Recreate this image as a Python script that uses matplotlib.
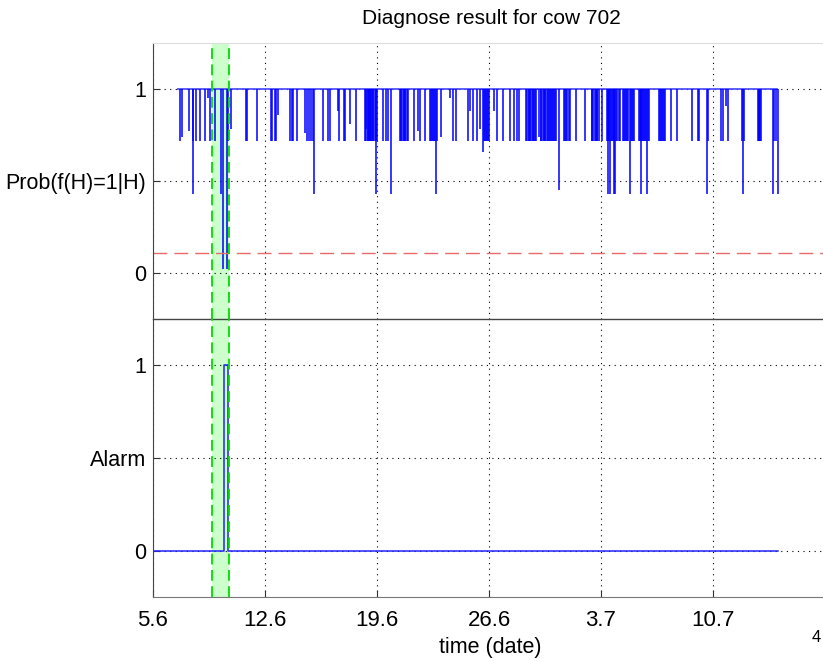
import matplotlib
matplotlib.use('Agg')
import matplotlib.pyplot as plt

plt.rcParams['font.family'] = ['Liberation Sans', 'DejaVu Sans']

# x in days since 5.6
tick_pos = [0, 7, 14, 21, 28, 35]
tick_labels = ['5.6', '12.6', '19.6', '26.6', '3.7', '10.7']

# probability trace: baseline of 1 between start/end, dips below
prob_start, prob_end = 1.5, 39.06
dip_t = [1.66, 1.83, 2.27, 2.48, 2.53, 2.69, 2.92, 3.27, 3.46, 3.58, 3.88, 4.25,
         4.39, 4.64, 4.71, 4.89, 5.81, 5.88, 6.52, 7.38, 7.44, 7.63, 7.69, 7.84,
         8.56, 8.66, 8.75, 8.97, 9.48, 9.61, 9.73, 9.88, 10.0, 10.09, 10.63, 10.94,
         11.06, 11.54, 11.64, 11.94, 12.03, 12.34, 12.71, 13.25, 13.34, 13.41, 13.5,
         13.59, 13.69, 13.78, 13.91, 14.0, 14.36, 14.56, 14.69, 14.86, 15.44, 15.53,
         15.66, 15.78, 15.91, 16.31, 16.56, 16.69, 17.0, 17.34, 17.44, 17.56, 17.67,
         17.78, 17.97, 18.59, 18.78, 18.91, 19.71, 19.84, 20.03, 20.25, 20.41, 20.64,
         20.75, 20.88, 21.0, 21.33, 21.47, 21.89, 22.33, 22.59, 22.72, 22.86, 23.34,
         23.47, 23.59, 23.72, 23.84, 23.94, 24.14, 24.28, 24.41, 24.53, 24.69, 24.81,
         24.94, 25.06, 25.19, 25.36, 25.69, 25.81, 25.97, 26.08, 26.44, 26.97, 27.41,
         27.53, 27.66, 27.78, 27.88, 28.06, 28.38, 28.44, 28.53, 28.58, 28.69, 28.79,
         28.89, 29.03, 29.16, 29.39, 29.52, 29.64, 29.81, 29.94, 30.06, 30.39, 30.48,
         30.56, 30.69, 30.81, 30.89, 31.0, 31.64, 31.77, 31.89, 32.0, 32.36, 32.77,
         33.67, 34.04, 34.13, 34.61, 34.69, 35.52, 35.64, 35.81, 35.96, 36.81, 36.89,
         36.94, 37.81, 37.89, 38.0, 38.77, 38.83, 38.94, 39.06,
         # extra dips inside the dense bursts
         13.30, 13.45, 13.55, 13.64, 13.74, 13.86, 13.96, 15.48, 15.60, 15.72, 15.85,
         17.39, 17.50, 17.61, 20.70, 20.81, 20.94, 23.40, 23.53, 23.65, 23.78, 23.90,
         24.22, 24.35, 24.47, 24.60, 24.75, 24.88, 25.00, 25.12, 25.75, 25.90,
         27.46, 27.60, 27.72, 28.41, 28.49, 28.63, 28.74, 28.84, 28.96, 29.10,
         29.45, 29.58, 29.70, 29.88, 30.00, 30.44, 30.52, 30.62, 30.75, 30.94,
         31.70, 31.83, 31.95, 37.85, 37.95]
dip_p = [0.72, 0.74, 0.77, 0.43, 0.72, 0.72, 0.72, 0.72, 0.95, 0.72, 0.72, 0.43,
         0.02, 0.02, 0.72, 0.78, 0.72, 0.72, 0.72, 0.72, 0.72, 0.72, 0.72, 0.86,
         0.72, 0.72, 0.72, 0.72, 0.76, 0.72, 0.72, 0.72, 0.72, 0.43, 0.72, 0.72,
         0.72, 0.88, 0.72, 0.72, 0.72, 0.81, 0.72, 0.72, 0.78, 0.72, 0.72,
         0.72, 0.72, 0.72, 0.43, 0.72, 0.72, 0.72, 0.72, 0.43, 0.72, 0.72,
         0.72, 0.72, 0.72, 0.72, 0.77, 0.72, 0.72, 0.72, 0.72, 0.72, 0.43,
         0.72, 0.74, 0.95, 0.72, 0.72, 0.72, 0.88, 0.72, 0.72, 0.78, 0.66,
         0.72, 0.72, 0.72, 0.88, 0.72, 0.72, 0.72, 0.72, 0.72, 0.72, 0.72,
         0.72, 0.72, 0.72, 0.72, 0.72, 0.74, 0.72, 0.72, 0.72, 0.72, 0.72,
         0.72, 0.72, 0.72, 0.45, 0.72, 0.72, 0.72, 0.72, 0.72, 0.72, 0.72,
         0.72, 0.72, 0.72, 0.72, 0.72, 0.72, 0.43, 0.72, 0.43, 0.72, 0.43,
         0.43, 0.72, 0.72, 0.72, 0.72, 0.72, 0.43, 0.72, 0.72, 0.72, 0.43,
         0.72, 0.72, 0.72, 0.43, 0.72, 0.72, 0.72, 0.72, 0.72, 0.72, 0.72,
         0.72, 0.72, 0.72, 0.43, 0.72, 0.72, 0.72, 0.91, 0.72, 0.72, 0.43,
         0.72, 0.72, 0.72, 0.72, 0.43, 0.72, 0.72, 0.43,
         0.72, 0.72, 0.72, 0.72, 0.72, 0.72, 0.72, 0.72, 0.72, 0.72, 0.72,
         0.72, 0.72, 0.72, 0.72, 0.72, 0.72, 0.72, 0.72, 0.72, 0.72, 0.72,
         0.72, 0.72, 0.72, 0.72, 0.72, 0.72, 0.72, 0.72, 0.72, 0.72,
         0.72, 0.72, 0.72, 0.72, 0.72, 0.72, 0.72, 0.72, 0.72, 0.72,
         0.72, 0.72, 0.72, 0.72, 0.72, 0.72, 0.72, 0.72, 0.72, 0.72,
         0.72, 0.72, 0.72, 0.72, 0.72]
threshold = 0.11

# alarm trace
alarm_t = [0, 4.45, 4.45, 4.67, 4.67, 39.06]
alarm_v = [0, 0, 1, 1, 0, 0]

# true event window
event_start, event_end = 3.69, 4.75

W, H = 823, 661
fig = plt.figure(figsize=(W / 100, H / 100), dpi=100)
left, right = 153, 831
ax1 = fig.add_axes([left / W, (H - 319) / H, (right - left) / W, (319 - 43) / H])
ax2 = fig.add_axes([left / W, (H - 597) / H, (right - left) / W, (597 - 319) / H], sharex=ax1)

grid_kw = dict(color='black', linestyle=(0, (1, 4)), linewidth=0.8)

for ax in (ax1, ax2):
    ax.axvspan(event_start, event_end, color='#ccffcc', zorder=0, lw=0)
    for x in (event_start, event_end):
        ax.axvline(x, color='#00dd00', linestyle=(0, (6, 3)), linewidth=1.3, zorder=3)
    ax.set_xlim(0, (right - left) / 16)
    ax.set_ylim(-0.25, 1.25)
    ax.set_xticks(tick_pos)
    ax.set_yticks([0, 0.5, 1])
    ax.grid(True, **grid_kw)
    ax.set_axisbelow(True)
    ax.tick_params(direction='in', length=5, width=0.8, labelsize=16, color='#333333')
    ax.tick_params(axis='y', pad=5, labelsize=15.5)
    ax.tick_params(axis='x', pad=9)
    ax.spines['right'].set_visible(False)
    ax.spines['left'].set_color('#444444')

ax1.hlines(1, prob_start, prob_end, color='#4444ff', linewidth=1.2, zorder=2)
ax1.vlines(dip_t, dip_p, 1, color='#0000ff', linewidth=1.1, zorder=2)
ax1.axhline(threshold, color='#e86a6a', linestyle=(0, (10, 5)), linewidth=1.0, zorder=2)
ax1.set_yticklabels(['0', 'Prob(f(H)=1|H)', '1'])
ax1.tick_params(axis='x', labelbottom=False, length=0)
ax1.spines['top'].set_color('#dddddd')
ax1.spines['bottom'].set_visible(False)

ax2.plot(alarm_t, alarm_v, color='#2222ff', linewidth=1.1, zorder=2)
ax2.set_yticklabels(['0', 'Alarm', '1'])
ax2.set_xticklabels(tick_labels)
ax2.spines['top'].set_color('#444444')
ax2.spines['top'].set_linewidth(1.0)
ax2.spines['bottom'].set_color('#777777')

fig.text(491 / W, 1 - 18 / H, 'Diagnose result for cow 702', ha='center', va='center', fontsize=15)
fig.text(490 / W, 1 - 648 / H, 'time (date)', ha='center', va='center', fontsize=15.5)
fig.text(812 / W, 1 - 637 / H, '4', ha='left', va='center', fontsize=12)

fig.savefig('out.png', dpi=100)
